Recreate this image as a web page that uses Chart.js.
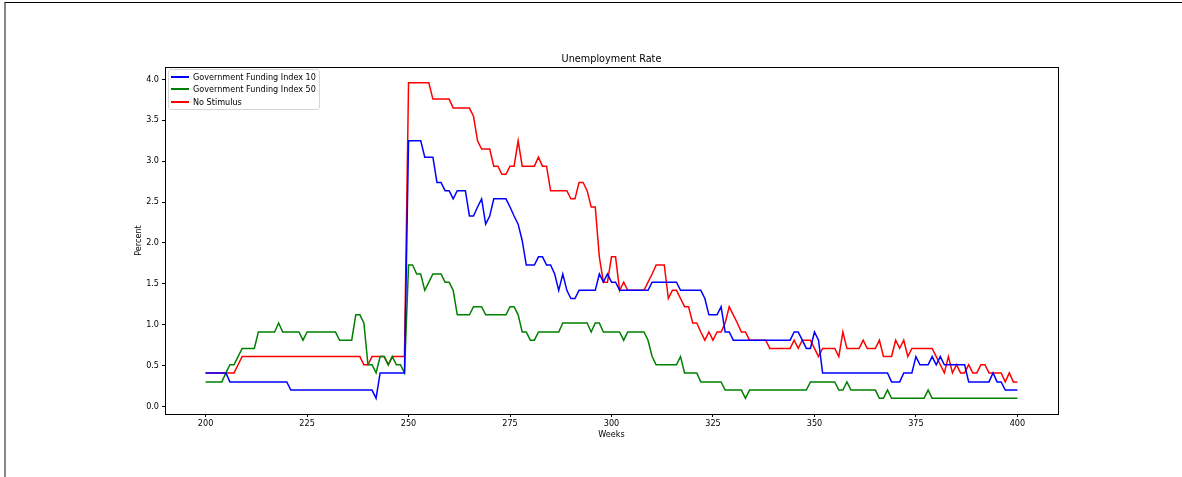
<!DOCTYPE html>
<html>
<head>
<meta charset="utf-8">
<script src="https://cdn.jsdelivr.net/npm/chart.js@4.4.0/dist/chart.umd.min.js"></script>
<style>
  html, body { margin: 0; padding: 0; background: #fff; }
  #wrap { position: relative; width: 1182px; height: 477px; overflow: hidden; }
  #frame { position: absolute; left: 4px; top: 2px; right: 0; bottom: 0; border-top: 1px solid #000; border-left: 2px solid #888; }
  #chart { position: absolute; left: 0; top: 0; }
  #legend { position: absolute; left: 168px; top: 69px; width: 150px; height: 39px; border: 1px solid #d6d6d6; border-radius: 3px; background: rgba(255,255,255,0.8); font: 8.1px "DejaVu Sans", sans-serif; color: #000; }
  .row { position: absolute; left: 0; width: 148px; height: 10px; line-height: 10px; white-space: nowrap; }
  .row i { position: absolute; left: 2px; top: 4px; width: 18px; height: 2px; }
  .row span { position: absolute; left: 24px; top: 0; }
</style>
</head>
<body>
<div id="wrap">
  <div id="frame"></div>
  <canvas id="chart" width="1182" height="477"></canvas>
  <div id="legend"></div>
</div>
<script>
// weeks 200..400, one point per week
const weeks = Array.from({ length: 201 }, (_, i) => 200 + i);

const seriesNames = ['Government Funding Index 10', 'Government Funding Index 50', 'No Stimulus'];
const seriesColors = ['#0000ff', '#008000', '#ff0000'];

const fund10 = [
  0.41, 0.41, 0.41, 0.41, 0.41, 0.41, 0.30, 0.30, 0.30, 0.30, // 200
  0.30, 0.30, 0.30, 0.30, 0.30, 0.30, 0.30, 0.30, 0.30, 0.30, // 210
  0.30, 0.20, 0.20, 0.20, 0.20, 0.20, 0.20, 0.20, 0.20, 0.20, // 220
  0.20, 0.20, 0.20, 0.20, 0.20, 0.20, 0.20, 0.20, 0.20, 0.20, // 230
  0.20, 0.20, 0.10, 0.41, 0.41, 0.41, 0.41, 0.41, 0.41, 0.41, // 240
  3.25, 3.25, 3.25, 3.25, 3.05, 3.05, 3.05, 2.74, 2.74, 2.64, // 250
  2.64, 2.54, 2.64, 2.64, 2.64, 2.33, 2.33, 2.44, 2.54, 2.23, // 260
  2.33, 2.54, 2.54, 2.54, 2.54, 2.44, 2.33, 2.23, 2.03, 1.73, // 270
  1.73, 1.73, 1.83, 1.83, 1.73, 1.73, 1.62, 1.42, 1.62, 1.42, // 280
  1.32, 1.32, 1.42, 1.42, 1.42, 1.42, 1.42, 1.62, 1.52, 1.62, // 290
  1.52, 1.52, 1.42, 1.42, 1.42, 1.42, 1.42, 1.42, 1.42, 1.42, // 300
  1.52, 1.52, 1.52, 1.52, 1.52, 1.52, 1.52, 1.42, 1.42, 1.42, // 310
  1.42, 1.42, 1.42, 1.32, 1.12, 1.12, 1.12, 1.22, 0.91, 0.91, // 320
  0.81, 0.81, 0.81, 0.81, 0.81, 0.81, 0.81, 0.81, 0.81, 0.81, // 330
  0.81, 0.81, 0.81, 0.81, 0.81, 0.91, 0.91, 0.81, 0.71, 0.71, // 340
  0.91, 0.81, 0.41, 0.41, 0.41, 0.41, 0.41, 0.41, 0.41, 0.41, // 350
  0.41, 0.41, 0.41, 0.41, 0.41, 0.41, 0.41, 0.41, 0.41, 0.30, // 360
  0.30, 0.30, 0.41, 0.41, 0.41, 0.61, 0.51, 0.51, 0.51, 0.61, // 370
  0.51, 0.61, 0.51, 0.51, 0.51, 0.51, 0.51, 0.51, 0.30, 0.30, // 380
  0.30, 0.30, 0.30, 0.30, 0.41, 0.30, 0.30, 0.20, 0.20, 0.20, // 390
  0.20
];

const fund50 = [
  0.30, 0.30, 0.30, 0.30, 0.30, 0.41, 0.51, 0.51, 0.61, 0.71, // 200
  0.71, 0.71, 0.71, 0.91, 0.91, 0.91, 0.91, 0.91, 1.02, 0.91, // 210
  0.91, 0.91, 0.91, 0.91, 0.81, 0.91, 0.91, 0.91, 0.91, 0.91, // 220
  0.91, 0.91, 0.91, 0.81, 0.81, 0.81, 0.81, 1.12, 1.12, 1.02, // 230
  0.51, 0.51, 0.41, 0.61, 0.61, 0.51, 0.61, 0.51, 0.51, 0.41, // 240
  1.73, 1.73, 1.62, 1.62, 1.42, 1.52, 1.62, 1.62, 1.62, 1.52, // 250
  1.52, 1.42, 1.12, 1.12, 1.12, 1.12, 1.22, 1.22, 1.22, 1.12, // 260
  1.12, 1.12, 1.12, 1.12, 1.12, 1.22, 1.22, 1.12, 0.91, 0.91, // 270
  0.81, 0.81, 0.91, 0.91, 0.91, 0.91, 0.91, 0.91, 1.02, 1.02, // 280
  1.02, 1.02, 1.02, 1.02, 1.02, 0.91, 1.02, 1.02, 0.91, 0.91, // 290
  0.91, 0.91, 0.91, 0.81, 0.91, 0.91, 0.91, 0.91, 0.91, 0.81, // 300
  0.61, 0.51, 0.51, 0.51, 0.51, 0.51, 0.51, 0.61, 0.41, 0.41, // 310
  0.41, 0.41, 0.30, 0.30, 0.30, 0.30, 0.30, 0.30, 0.20, 0.20, // 320
  0.20, 0.20, 0.20, 0.10, 0.20, 0.20, 0.20, 0.20, 0.20, 0.20, // 330
  0.20, 0.20, 0.20, 0.20, 0.20, 0.20, 0.20, 0.20, 0.20, 0.30, // 340
  0.30, 0.30, 0.30, 0.30, 0.30, 0.30, 0.20, 0.20, 0.30, 0.20, // 350
  0.20, 0.20, 0.20, 0.20, 0.20, 0.20, 0.10, 0.10, 0.20, 0.10, // 360
  0.10, 0.10, 0.10, 0.10, 0.10, 0.10, 0.10, 0.10, 0.20, 0.10, // 370
  0.10, 0.10, 0.10, 0.10, 0.10, 0.10, 0.10, 0.10, 0.10, 0.10, // 380
  0.10, 0.10, 0.10, 0.10, 0.10, 0.10, 0.10, 0.10, 0.10, 0.10, // 390
  0.10
];

const noStimulus = [
  0.41, 0.41, 0.41, 0.41, 0.41, 0.41, 0.41, 0.41, 0.51, 0.61, // 200
  0.61, 0.61, 0.61, 0.61, 0.61, 0.61, 0.61, 0.61, 0.61, 0.61, // 210
  0.61, 0.61, 0.61, 0.61, 0.61, 0.61, 0.61, 0.61, 0.61, 0.61, // 220
  0.61, 0.61, 0.61, 0.61, 0.61, 0.61, 0.61, 0.61, 0.61, 0.51, // 230
  0.51, 0.61, 0.61, 0.61, 0.61, 0.51, 0.61, 0.61, 0.61, 0.61, // 240
  3.96, 3.96, 3.96, 3.96, 3.96, 3.96, 3.76, 3.76, 3.76, 3.76, // 250
  3.76, 3.65, 3.65, 3.65, 3.65, 3.65, 3.55, 3.25, 3.15, 3.15, // 260
  3.15, 2.94, 2.94, 2.84, 2.84, 2.94, 2.94, 3.25, 2.94, 2.94, // 270
  2.94, 2.94, 3.05, 2.94, 2.94, 2.64, 2.64, 2.64, 2.64, 2.64, // 280
  2.54, 2.54, 2.74, 2.74, 2.64, 2.44, 2.44, 1.83, 1.52, 1.52, // 290
  1.83, 1.83, 1.42, 1.52, 1.42, 1.42, 1.42, 1.42, 1.42, 1.52, // 300
  1.62, 1.73, 1.73, 1.73, 1.32, 1.42, 1.42, 1.32, 1.22, 1.22, // 310
  1.02, 1.02, 0.91, 0.81, 0.91, 0.81, 0.91, 0.91, 1.02, 1.22, // 320
  1.12, 1.02, 0.91, 0.91, 0.81, 0.81, 0.81, 0.81, 0.81, 0.71, // 330
  0.71, 0.71, 0.71, 0.71, 0.71, 0.81, 0.71, 0.81, 0.81, 0.81, // 340
  0.71, 0.61, 0.71, 0.71, 0.71, 0.71, 0.61, 0.91, 0.71, 0.71, // 350
  0.71, 0.71, 0.81, 0.71, 0.71, 0.71, 0.81, 0.61, 0.61, 0.61, // 360
  0.81, 0.71, 0.81, 0.61, 0.71, 0.71, 0.71, 0.71, 0.71, 0.71, // 370
  0.61, 0.51, 0.41, 0.61, 0.41, 0.51, 0.41, 0.41, 0.51, 0.41, // 380
  0.41, 0.51, 0.51, 0.41, 0.41, 0.41, 0.41, 0.30, 0.41, 0.30, // 390
  0.30
];

const xTicks = [200, 225, 250, 275, 300, 325, 350, 375, 400];
const yTicks = [0, 0.5, 1, 1.5, 2, 2.5, 3, 3.5, 4];

const allSeries = [fund10, fund50, noStimulus];

const font = { family: '"DejaVu Sans", sans-serif', size: 8.1 };

// box around the plot, like matplotlib spines
const spines = {
  id: 'spines',
  afterDatasetsDraw(chart) {
    const { ctx, chartArea: a } = chart;
    ctx.save();
    ctx.strokeStyle = '#000';
    ctx.lineWidth = 1;
    ctx.strokeRect(Math.round(a.left) + 0.5, Math.round(a.top) + 0.5,
      Math.round(a.right - a.left), Math.round(a.bottom - a.top));
    ctx.restore();
  }
};

const chart = new Chart(document.getElementById('chart'), {
  type: 'line',
  data: {
    datasets: allSeries.map((vals, i) => ({
      label: seriesNames[i],
      data: vals.map((v, j) => ({ x: weeks[j], y: v })),
      borderColor: seriesColors[i],
      backgroundColor: seriesColors[i],
      borderWidth: 1.5,
      pointRadius: 0,
      tension: 0,
      fill: false
    }))
  },
  options: {
    responsive: false,
    animation: false,
    layout: { padding: { left: 120, right: 124, top: 53.7, bottom: 35 } },
    plugins: {
      legend: { display: false },
      tooltip: { enabled: false },
      title: {
        display: true,
        text: 'Unemployment Rate',
        fullSize: false,
        color: '#000',
        font: { family: font.family, size: 9.7, weight: 'normal' },
        padding: { top: 0, bottom: 1.66 }
      }
    },
    scales: {
      x: {
        type: 'linear',
        min: 190,
        max: 410,
        afterBuildTicks: s => { s.ticks = xTicks.map(v => ({ value: v })); },
        afterFit: s => { s.height = 28; },
        grid: { drawOnChartArea: false, drawTicks: true, tickLength: 3, color: '#000', lineWidth: 1 },
        border: { display: false },
        ticks: { color: '#000', font, padding: 2, maxRotation: 0, callback: v => String(v) },
        title: { display: true, text: 'Weeks', color: '#000', font, padding: { top: 0, bottom: 2 } }
      },
      y: {
        type: 'linear',
        min: -0.093,
        max: 4.153,
        afterBuildTicks: s => { s.ticks = yTicks.map(v => ({ value: v })); },
        afterFit: s => { s.width = 45; },
        grid: { drawOnChartArea: false, drawTicks: true, tickLength: 3, color: '#000', lineWidth: 1 },
        border: { display: false },
        ticks: { color: '#000', font, padding: 3, callback: v => Number(v).toFixed(1) },
        title: { display: true, text: 'Percent', color: '#000', font, padding: { top: 14, bottom: 0 } }
      }
    }
  },
  plugins: [spines]
});

// legend box in the top left corner of the plot
const legendEl = document.getElementById('legend');
const rowTops = [2, 14, 27];
seriesNames.forEach((name, i) => {
  const row = document.createElement('div');
  row.className = 'row';
  row.style.top = rowTops[i] + 'px';
  const mark = document.createElement('i');
  mark.style.background = seriesColors[i];
  const text = document.createElement('span');
  text.textContent = name;
  row.appendChild(mark);
  row.appendChild(text);
  legendEl.appendChild(row);
});
</script>
</body>
</html>
